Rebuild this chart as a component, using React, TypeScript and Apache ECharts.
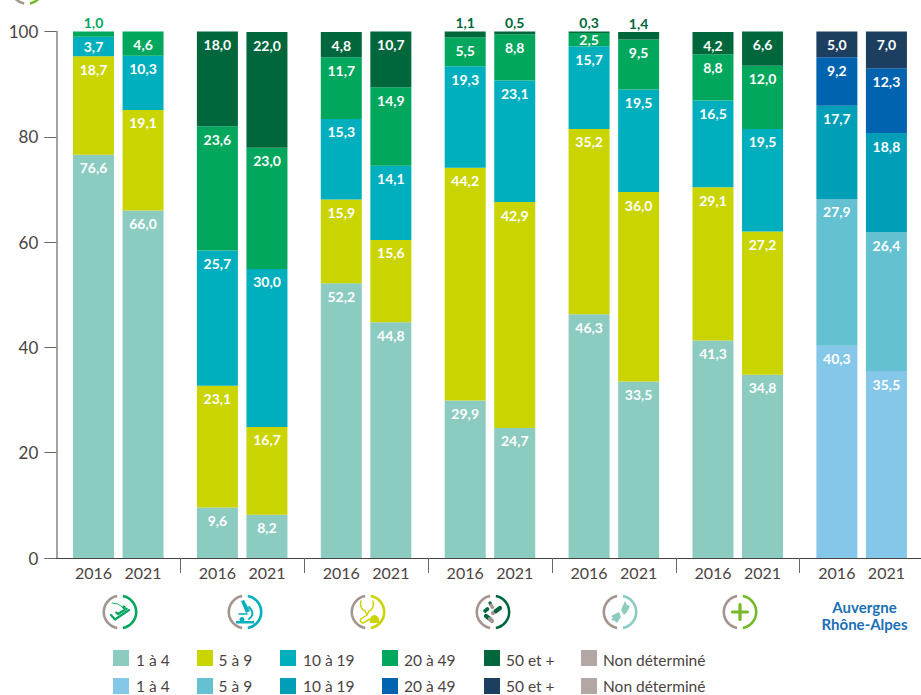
import React, { useEffect, useRef } from "react";
import * as echarts from "echarts";

const years = ["2016", "2021"];
const seriesNames = ["1 à 4", "5 à 9", "10 à 19", "20 à 49", "50 et +"];
const legendLabels = [...seriesNames, "Non déterminé"];
const regionName = ["Auvergne", "Rhône-Alpes"];
const yTicks = [0, 20, 40, 60, 80, 100];

const oneToFour = [76.6, 66.0, 9.6, 8.2, 52.2, 44.8, 29.9, 24.7, 46.3, 33.5, 41.3, 34.8, 40.3, 35.5];
const fiveToNine = [18.7, 19.1, 23.1, 16.7, 15.9, 15.6, 44.2, 42.9, 35.2, 36.0, 29.1, 27.2, 27.9, 26.4];
const tenToNineteen = [3.7, 10.3, 25.7, 30.0, 15.3, 14.1, 19.3, 23.1, 15.7, 19.5, 16.5, 19.5, 17.7, 18.8];
const twentyToFortyNine = [1.0, 4.6, 23.6, 23.0, 11.7, 14.9, 5.5, 8.8, 2.5, 9.5, 8.8, 12.0, 9.2, 12.3];
const fiftyPlus = [null, null, 18.0, 22.0, 4.8, 10.7, 1.1, 0.5, 0.3, 1.4, 4.2, 6.6, 5.0, 7.0];
const seriesValues = [oneToFour, fiveToNine, tenToNineteen, twentyToFortyNine, fiftyPlus];

const sectorColors = ["#8CCBC0", "#C9D400", "#00AFBD", "#00A75D", "#00673D", "#B3A7A4"];
const regionColors = ["#85C7E9", "#63C1D2", "#009FB7", "#0063AF", "#1C3F5F", "#B3A7A4"];

const FONT = "Lato";
const TEXT = "#4A4342";
const GRAY = "#A2968F";

// slots: one lead slot, then per group [bar, blank, bar, blank, blank]
const SLOTS = 35;
const slotOfBar = (b: number) => 1 + Math.floor(b / 2) * 5 + (b % 2) * 2;
const categories: string[] = Array.from({ length: SLOTS }, () => "");
oneToFour.forEach((_, b) => { categories[slotOfBar(b)] = years[b % 2]; });

const glyphs: { cx: number; color: string; parts: { d: string; w?: number; fill?: boolean; color?: string }[] }[] = [
  { cx: 120, color: "#00A75D", parts: [
    { d: "M-8 -9 L-2 -8 L5 -3", w: 0.9 },
    { d: "M-9 3 L-5 7.5 L9 -2", w: 2.2 },
    { d: "M-5 1 L-2 3.5 L8 -3 L7 -4.5 L-2 0.5 L-4 -1 Z", fill: true },
    { d: "M4 -6.5 a1.8 1.8 0 1 0 0.01 0 Z", fill: true },
  ] },
  { cx: 245, color: "#00AFBD", parts: [
    { d: "M-4 -11 L-1 -12 L5 -1 L1 1 Z", fill: true },
    { d: "M4 -5 Q11 2 4 7", w: 1.8 },
    { d: "M-6 2 L2 2", w: 1.6 },
    { d: "M-3 5 a2.5 2.5 0 1 0 0.01 0 Z", fill: true },
    { d: "M-9 9 L9 9 L9 11.5 L-9 11.5 Z", fill: true },
  ] },
  { cx: 368, color: "#C9D400", parts: [
    { d: "M-7 -11 Q-9 -4 -3 -1 L-1 3 M5 -11 Q7 -4 1 -1 L-1 3 L-7 7 Q-9 10 -5 11 L2 7", w: 1.5 },
    { d: "M2 11 Q1 3 7 3 Q12 4 11 11 Z", fill: true },
  ] },
  { cx: 493, color: "#00673D", parts: [
    { d: "M-3 -9 L-2.5 -8", w: 3.2 },
    { d: "M-2 -7 L-0.5 -4.5", w: 3.2, color: "#A2968F" },
    { d: "M-8 -1 L-5.5 -3", w: 3.6 },
    { d: "M0 1 L3 -1", w: 4.2, color: "#A2968F" },
    { d: "M3 -1 L7 -4", w: 4.2 },
    { d: "M-7 4 L-3 7", w: 4.2 },
    { d: "M-3 7 L-1 9", w: 4.2, color: "#A2968F" },
  ] },
  { cx: 620, color: "#8CCBC0", parts: [
    { d: "M1 -2 L5 -11 L7 -7 L10 -6 L7 0 L4 3 Z", fill: true },
    { d: "M-1 0 L-9 4 L-7 6 L-9 8 L-5 9 L-3 11 L1 5 Z", fill: true },
  ] },
  { cx: 740, color: "#76B82A", parts: [
    { d: "M-7.5 0 L7.5 0 M0 -7.5 L0 7.5", w: 3.2 },
  ] },
];

const shapeNames: string[][] = glyphs.map((g, i) =>
  g.parts.map((p, j) => {
    const n = `glyph_${i}_${j}`;
    echarts.graphic.registerShape(n, echarts.graphic.extendPath(p.d, {}));
    return n;
  })
);

function ring(x: number, y: number, color: string) {
  const base = { type: "arc", x, y, silent: true };
  return [
    { ...base, shape: { cx: 0, cy: 0, r: 16.2, startAngle: (100 * Math.PI) / 180, endAngle: (260 * Math.PI) / 180 }, style: { stroke: GRAY, lineWidth: 2.6, fill: "none" } },
    { ...base, shape: { cx: 0, cy: 0, r: 16.2, startAngle: (-80 * Math.PI) / 180, endAngle: (80 * Math.PI) / 180 }, style: { stroke: color, lineWidth: 2.6, fill: "none" } },
  ];
}

function buildGraphics() {
  const els: any[] = [];
  els.push(...ring(27, -12.5, "#76B82A"));
  glyphs.forEach((g, i) => {
    els.push(...ring(g.cx, 612, g.color));
    g.parts.forEach((p, j) => {
      const c = p.color || g.color;
      els.push({
        type: shapeNames[i][j], x: g.cx, y: 612, silent: true,
        style: p.fill ? { fill: c, stroke: "none" } : { fill: "none", stroke: c, lineWidth: p.w || 1.5, lineCap: "round", lineJoin: "round" },
      });
    });
  });
  regionName.forEach((t, i) => {
    els.push({ type: "text", x: 864.5, y: 607 + i * 17, silent: true,
      style: { text: t, fill: "#1A6FB5", font: `bold 15px ${FONT}`, align: "center", verticalAlign: "middle" } });
  });
  const swatchX = [113, 197, 280, 382, 484, 581];
  const textX = [136, 218.5, 303, 404, 506, 603];
  [sectorColors, regionColors].forEach((cols, r) => {
    const y = 650 + r * 28;
    legendLabels.forEach((t, i) => {
      els.push({ type: "rect", silent: true, shape: { x: swatchX[i], y, width: 16, height: 16 }, style: { fill: cols[i] } });
      els.push({ type: "text", x: textX[i], y: y + (r ? 8 : 10), silent: true,
        style: { text: t, fill: TEXT, font: `15.5px ${FONT}`, align: "left", verticalAlign: "middle" } });
    });
  });
  return els;
}

function labelFor(v: number, color: string) {
  if (v < 2) return { position: "top", distance: 2, color };
  if (v < 4) return { position: "inside" };
  return { position: "insideTop", distance: 6 };
}

export default function App() {
  const ref = useRef<HTMLDivElement>(null);
  useEffect(() => {
    document.body.style.margin = "0";
    const chart = echarts.init(ref.current!, undefined, { renderer: "svg" });
    const series = seriesValues.map((vals, s) => {
      const data: any[] = Array.from({ length: SLOTS }, () => null);
      vals.forEach((v, b) => {
        if (v == null) return;
        const cols = b >= 12 ? regionColors : sectorColors;
        data[slotOfBar(b)] = { value: v, itemStyle: { color: cols[s] }, label: labelFor(v, cols[s]) };
      });
      return {
        type: "bar", name: seriesNames[s], stack: "total", barWidth: 41, data,
        label: {
          show: true, color: "#FFFFFF", fontFamily: FONT, fontWeight: "bold", fontSize: 14,
          formatter: (p: any) => p.value.toFixed(1).replace(".", ","),
        },
      };
    });
    chart.setOption({
      animation: false,
      backgroundColor: "#FFFFFF",
      textStyle: { fontFamily: FONT },
      grid: { left: 56.33, right: -2.6, top: 31.5, bottom: 137, outerBoundsMode: "none" },
      xAxis: {
        type: "category", data: categories,
        axisLine: { lineStyle: { color: TEXT, width: 1 } },
        axisTick: { show: true, length: 15, lineStyle: { color: "#6E6664" }, interval: (i: number) => i > 0 && i % 5 === 0 },
        axisLabel: { interval: 0, color: TEXT, fontSize: 16, fontFamily: FONT, margin: 6 },
      },
      yAxis: {
        type: "value", min: 0, max: 100, interval: 20,
        axisLine: { show: true, lineStyle: { color: "#8A8280", width: 1.5 } },
        axisTick: { show: true, length: 12, lineStyle: { color: "#6E6664" } },
        splitLine: { show: false },
        axisLabel: { color: TEXT, fontSize: 17, fontFamily: FONT, margin: 18, customValues: yTicks },
      },
      series,
      graphic: { elements: buildGraphics() },
    });
    return () => chart.dispose();
  }, []);
  return <div ref={ref} style={{ position: "absolute", left: 0, top: 0, width: 921, height: 695 }} />;
}
